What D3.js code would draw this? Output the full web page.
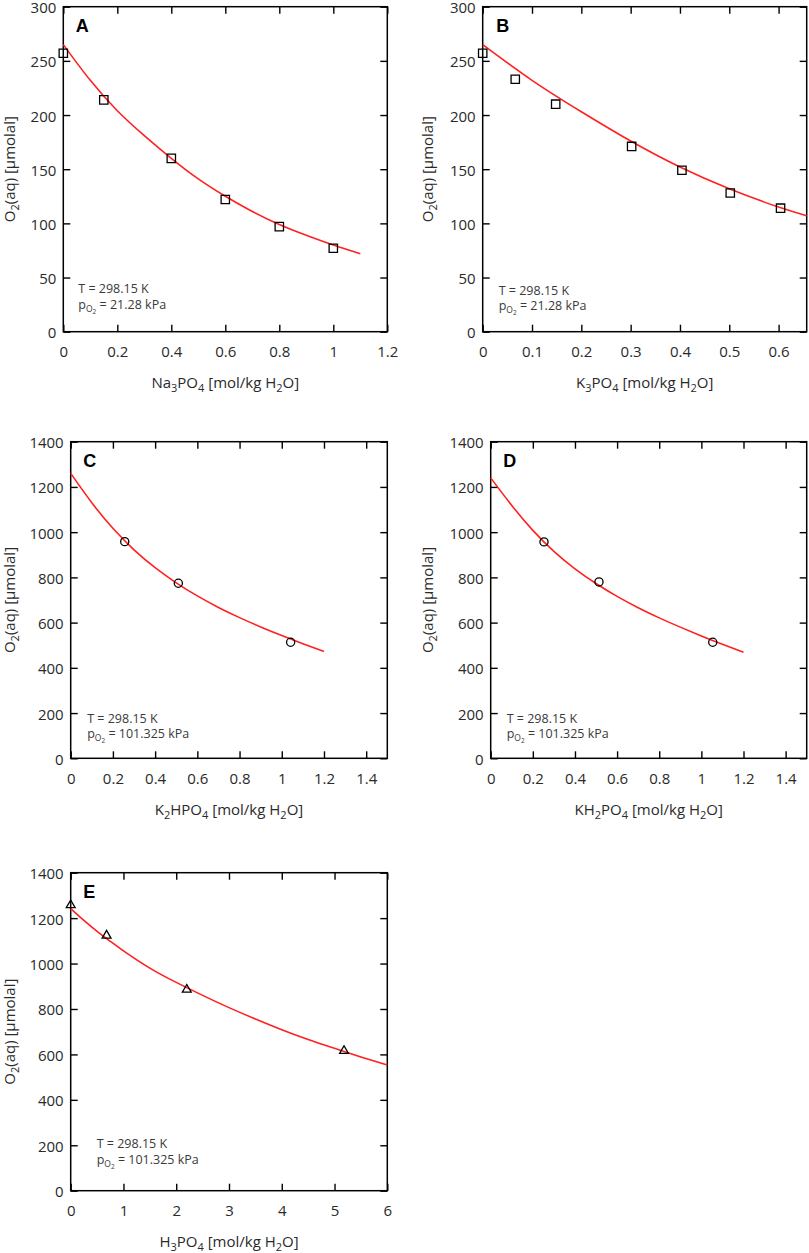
<!DOCTYPE html>
<html>
<head>
<meta charset="utf-8">
<script src="https://cdn.jsdelivr.net/npm/d3@7"></script>
<style>
  html, body { margin: 0; padding: 0; background: #fff; }
  svg { display: block; }
</style>
</head>
<body>
<svg id="chart" width="809" height="1253"></svg>
<script>
// ---------------- DATA ----------------
// Panel A: Na3PO4
const aPointX = [0, 0.15, 0.4, 0.6, 0.8, 1.0];
const aPointY = [257, 214, 160, 122, 97, 77];
const aFitX = [0, 0.1, 0.2, 0.3, 0.4, 0.5, 0.6, 0.7, 0.8, 0.9, 1.0, 1.1];
const aFitY = [265, 232, 204, 181, 160, 141, 125, 111, 99, 89, 80, 72];
const aXTicks = [0, 0.2, 0.4, 0.6, 0.8, 1, 1.2];

// Panel B: K3PO4
const bPointX = [0, 0.066, 0.148, 0.302, 0.404, 0.502, 0.604];
const bPointY = [257, 233, 210, 171, 149, 128, 114];
const bFitX = [0, 0.1, 0.2, 0.3, 0.4, 0.5, 0.6, 0.657];
const bFitY = [265, 232, 203, 176, 152, 132, 115, 107];
const bXTicks = [0, 0.1, 0.2, 0.3, 0.4, 0.5, 0.6];

// Panel C: K2HPO4
const cPointX = [0.256, 0.51, 1.042];
const cPointY = [958, 774, 513];
const cFitX = [0, 0.1, 0.2, 0.3, 0.4, 0.5, 0.6, 0.7, 0.8, 0.9, 1.0, 1.1, 1.2];
const cFitY = [1260, 1130, 1017, 922, 843, 776, 718, 667, 622, 581, 543, 507, 473];

// Panel D: KH2PO4
const dPointX = [0.253, 0.514, 1.054];
const dPointY = [957, 780, 513];
const dFitX = [0, 0.1, 0.2, 0.3, 0.4, 0.5, 0.6, 0.7, 0.8, 0.9, 1.0, 1.1, 1.2];
const dFitY = [1240, 1118, 1008, 915, 838, 773, 716, 666, 621, 580, 541, 504, 469];
const cdXTicks = [0, 0.2, 0.4, 0.6, 0.8, 1, 1.2, 1.4];

// Panel E: H3PO4
const ePointX = [0, 0.68, 2.2, 5.18];
const ePointY = [1261, 1127, 889, 619];
const eFitX = [0, 0.25, 0.5, 0.75, 1, 1.5, 2, 2.5, 3, 3.5, 4, 4.5, 5, 5.5, 6];
const eFitY = [1242, 1190, 1142, 1098, 1056, 980, 917, 860, 806, 756, 709, 666, 627, 589, 553];
const eXTicks = [0, 1, 2, 3, 4, 5, 6];

const yTicksLow = [0, 50, 100, 150, 200, 250, 300];
const yTicksHigh = [0, 200, 400, 600, 800, 1000, 1200, 1400];

const yTitleParts = [["O", ""], ["2", "sub"], ["(aq) [µmolal]", ""]];
const xTitleA = [["Na", ""], ["3", "sub"], ["PO", ""], ["4", "sub"], [" [mol/kg H", ""], ["2", "sub"], ["O]", ""]];
const xTitleB = [["K", ""], ["3", "sub"], ["PO", ""], ["4", "sub"], [" [mol/kg H", ""], ["2", "sub"], ["O]", ""]];
const xTitleC = [["K", ""], ["2", "sub"], ["HPO", ""], ["4", "sub"], [" [mol/kg H", ""], ["2", "sub"], ["O]", ""]];
const xTitleD = [["KH", ""], ["2", "sub"], ["PO", ""], ["4", "sub"], [" [mol/kg H", ""], ["2", "sub"], ["O]", ""]];
const xTitleE = [["H", ""], ["3", "sub"], ["PO", ""], ["4", "sub"], [" [mol/kg H", ""], ["2", "sub"], ["O]", ""]];

const tempText = "T = 298.15 K";
const pressureLow = " = 21.28 kPa";
const pressureHigh = " = 101.325 kPa";

// ---------------- LAYOUT ----------------
const panels = [
  { letter: "A", box: [63.3, 6.7, 387.3, 331.7], xMax: 1.2, yMax: 300, xTicks: aXTicks, yTicks: yTicksLow,
    px: aPointX, py: aPointY, fx: aFitX, fy: aFitY, marker: "square", xTitle: xTitleA, pText: pressureLow,
    ann: [15, -38.5], letterOff: [12.5, 25] },
  { letter: "B", box: [482.7, 6.7, 806.7, 331.7], xMax: 0.657, yMax: 300, xTicks: bXTicks, yTicks: yTicksLow,
    px: bPointX, py: bPointY, fx: bFitX, fy: bFitY, marker: "square", xTitle: xTitleB, pText: pressureLow,
    ann: [16, -37], letterOff: [13.5, 25] },
  { letter: "C", box: [70.7, 441.7, 387.3, 758.3], xMax: 1.5, yMax: 1400, xTicks: cdXTicks, yTicks: yTicksHigh,
    px: cPointX, py: cPointY, fx: cFitX, fy: cFitY, marker: "circle", xTitle: xTitleC, pText: pressureHigh,
    ann: [16.5, -35.5], letterOff: [12.5, 25] },
  { letter: "D", box: [490.7, 441.7, 806.7, 758.3], xMax: 1.5, yMax: 1400, xTicks: cdXTicks, yTicks: yTicksHigh,
    px: dPointX, py: dPointY, fx: dFitX, fy: dFitY, marker: "circle", xTitle: xTitleD, pText: pressureHigh,
    ann: [16, -35.5], letterOff: [12.5, 25] },
  { letter: "E", box: [70.7, 872.7, 387.3, 1190.7], xMax: 6, yMax: 1400, xTicks: eXTicks, yTicks: yTicksHigh,
    px: ePointX, py: ePointY, fx: eFitX, fy: eFitY, marker: "triangle", xTitle: xTitleE, pText: pressureHigh,
    ann: [26, -42.5], letterOff: [12.5, 25.5] }
];

const FONT = "'Open Sans', 'DejaVu Sans', sans-serif";
const TEXT_COLOR = "#2a2a2a";
const svg = d3.select("#chart");

function addParts(textSel, parts, size, subSize, shift) {
  let down = false;
  parts.forEach(([t, kind]) => {
    const ts = textSel.append("tspan").text(t);
    if (kind === "sub") {
      ts.attr("font-size", subSize);
      if (!down) { ts.attr("dy", shift); down = true; }
    } else {
      ts.attr("font-size", size);
      if (down) { ts.attr("dy", -shift); down = false; }
    }
  });
}

panels.forEach(p => {
  const [x0, y0, x1, y1] = p.box;
  const x = d3.scaleLinear().domain([0, p.xMax]).range([x0, x1]);
  const y = d3.scaleLinear().domain([0, p.yMax]).range([y1, y0]);
  const g = svg.append("g");
  const fmt = d => String(+d.toFixed(2));

  // Axes with inward ticks
  const bottom = g.append("g").attr("transform", `translate(0,${y1})`)
    .call(d3.axisBottom(x).tickValues(p.xTicks).tickSizeInner(-7).tickSizeOuter(0).tickPadding(15).tickFormat(fmt));
  const left = g.append("g").attr("transform", `translate(${x0},0)`)
    .call(d3.axisLeft(y).tickValues(p.yTicks).tickSizeInner(-7).tickSizeOuter(0).tickPadding(7).tickFormat(fmt));
  const top = g.append("g").attr("transform", `translate(0,${y0})`)
    .call(d3.axisTop(x).tickValues(p.xTicks).tickSizeInner(-7).tickSizeOuter(0).tickFormat(""));
  const right = g.append("g").attr("transform", `translate(${x1},0)`)
    .call(d3.axisRight(y).tickValues(p.yTicks).tickSizeInner(-7).tickSizeOuter(0).tickFormat(""));
  [bottom, left, top, right].forEach(a => {
    a.select(".domain").remove();
    a.selectAll("line").attr("stroke", "#000").attr("stroke-width", 1.4);
    a.selectAll("text").attr("font-family", FONT).attr("font-size", 15).attr("fill", TEXT_COLOR);
  });
  left.selectAll("text").attr("dy", "0.4em");

  // Frame
  g.append("rect").attr("x", x0).attr("y", y0).attr("width", x1 - x0).attr("height", y1 - y0)
    .attr("fill", "none").attr("stroke", "#000").attr("stroke-width", 1.5);

  // Fit curve
  const fit = p.fx.map((v, i) => [v, p.fy[i]]);
  g.append("path").datum(fit)
    .attr("d", d3.line().x(d => x(d[0])).y(d => y(d[1])).curve(d3.curveNatural))
    .attr("fill", "none").attr("stroke", "#ff2020").attr("stroke-width", 1.6);

  // Markers
  const pts = p.px.map((v, i) => [v, p.py[i]]);
  const symType = p.marker === "square" ? d3.symbolSquare : p.marker === "circle" ? d3.symbolCircle : d3.symbolTriangle;
  const symSize = p.marker === "square" ? 70 : p.marker === "circle" ? 52 : 34;
  g.selectAll(".pt").data(pts).join("path")
    .attr("transform", d => `translate(${x(d[0])},${y(d[1]) + (p.marker === "triangle" ? 0.8 : 0)})`)
    .attr("d", d3.symbol().type(symType).size(symSize))
    .attr("fill", "none").attr("stroke", "#000").attr("stroke-width", 1.3);

  // Panel letter
  g.append("text").attr("x", x0 + p.letterOff[0]).attr("y", y0 + p.letterOff[1])
    .attr("font-family", "'Liberation Sans', Arial, sans-serif").attr("font-weight", "bold")
    .attr("font-size", 18).attr("fill", "#000").text(p.letter);

  // Annotation
  const ax = x0 + p.ann[0], ay = y1 + p.ann[1];
  g.append("text").attr("x", ax).attr("y", ay).attr("font-family", FONT).attr("font-size", 12.5)
    .attr("fill", "#3a3a3a").text(tempText);
  const t2 = g.append("text").attr("x", ax).attr("y", ay + 15.5).attr("font-family", FONT)
    .attr("font-size", 12.5).attr("fill", "#3a3a3a");
  t2.append("tspan").text("p");
  t2.append("tspan").attr("font-size", 8.5).attr("dy", 3).text("O");
  t2.append("tspan").attr("font-size", 6.5).attr("dy", 2).text("2");
  t2.append("tspan").attr("font-size", 12.5).attr("dy", -5).text(p.pText);

  // X title
  const xt = g.append("text").attr("x", (x0 + x1) / 2).attr("y", y1 + 56.5)
    .attr("text-anchor", "middle").attr("font-family", FONT).attr("fill", TEXT_COLOR).attr("font-size", 15);
  addParts(xt, p.xTitle, 15, 11, 4);

  // Y title
  const yx = p.letter === "B" || p.letter === "D" ? 433 : 15;
  const yt = g.append("text")
    .attr("transform", `translate(${yx},${(y0 + y1) / 2}) rotate(-90)`)
    .attr("text-anchor", "middle").attr("font-family", FONT).attr("fill", TEXT_COLOR).attr("font-size", 15);
  addParts(yt, yTitleParts, 15, 11, 4);
});
</script>
</body>
</html>
